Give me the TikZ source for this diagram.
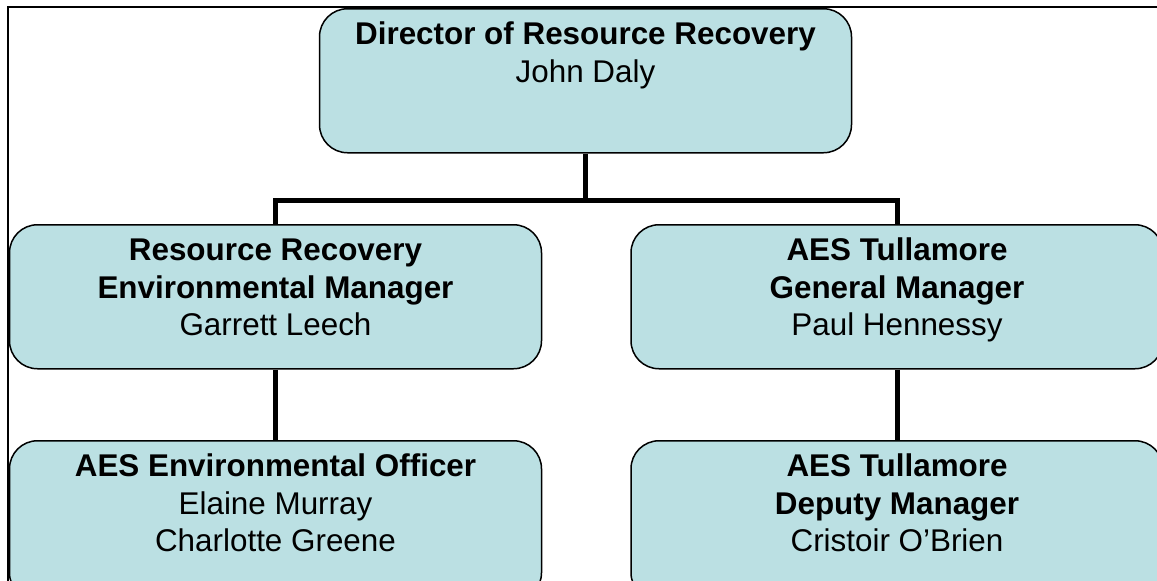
\documentclass[tikz,border=0pt]{standalone}
\usepackage{fontspec}
\setmainfont{Liberation Sans}
\usepackage{tikz}
\usetikzlibrary{calc,positioning}
\definecolor{boxblue}{HTML}{BBE0E3}
\newcommand{\orgfont}{\fontsize{15.7pt}{18.75pt}\selectfont}
\newcommand{\orgtext}[2]{\begin{tabular}[t]{@{}c@{}}#1\\ #2\end{tabular}}

\begin{document}
\begin{tikzpicture}[x=0.5pt,y=-0.5pt,
  orgbox/.style={draw=black,line width=0.75pt,fill=boxblue,rounded corners=14pt,
    inner sep=0pt,minimum width=266pt,text height=18pt,text depth=54pt,
    font=\orgfont,anchor=north},
  lowbox/.style={orgbox,text depth=62pt},
  link/.style={line width=2.5pt,black}]
\useasboundingbox (0,0) rectangle (1157,580);
\clip (0,0) rectangle (1157,580);
\draw[line width=0.6pt] (8,7) rectangle (1180,610);
% boxes
\node[orgbox] (dir) at (585.5,8) {\orgtext{\textbf{Director of Resource Recovery}}{John Daly}};
\node[orgbox] (envmgr) at (275.5,224) {\orgtext{\textbf{Resource Recovery}\\ \textbf{Environmental Manager}}{Garrett Leech}};
\node[orgbox] (genmgr) at (897,224) {\orgtext{\textbf{AES Tullamore}\\ \textbf{General Manager}}{Paul Hennessy}};
\node[lowbox] (envoff) at (275.5,440) {\orgtext{\textbf{AES Environmental Officer}\\ Elaine Murray}{Charlotte Greene}};
\node[lowbox] (depmgr) at (897,440) {\orgtext{\textbf{AES Tullamore}\\ \textbf{Deputy Manager}}{Cristoir O'Brien}};
% connectors
\coordinate (bus) at (586,200);
\draw[link] (dir.south) -- (dir.south |- bus);
\draw[link] (envmgr.north) |- (bus) -| (genmgr.north);
\draw[link] (envmgr.south) -- (envoff.north);
\draw[link] (genmgr.south) -- (depmgr.north);
\end{tikzpicture}
\end{document}
